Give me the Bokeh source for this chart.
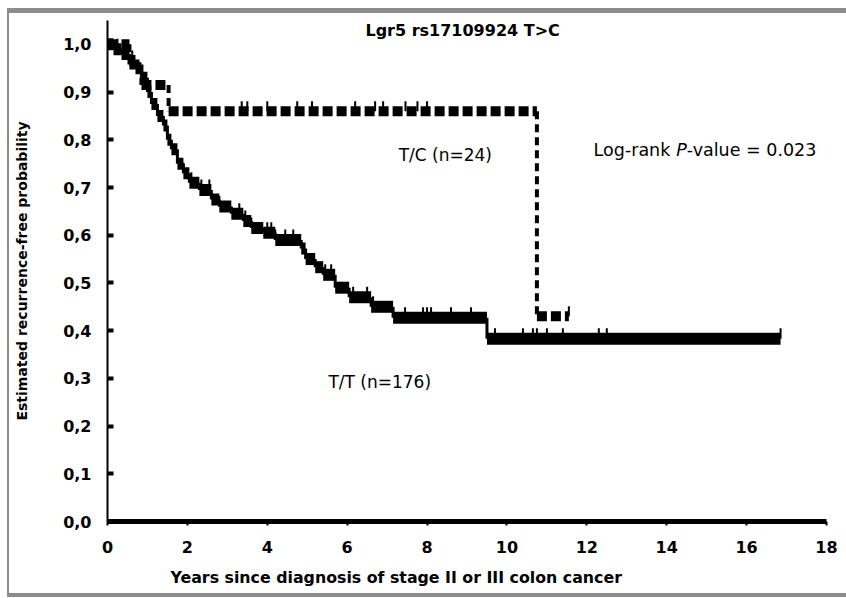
import numpy as np
from bokeh.plotting import figure
from bokeh.models import Range1d, FixedTicker, Label, Title, CustomJSTickFormatter
from bokeh.embed import file_html
from bokeh.resources import INLINE

# ---------------- data ----------------
# T/T genotype (n=176): step times (years) and survival after each step
tt_time = [0.0, 0.15, 0.35, 0.55, 0.7, 0.85, 1.0, 1.1, 1.25, 1.4, 1.5, 1.6, 1.75,
           1.9, 2.05, 2.3, 2.6, 2.8, 3.1, 3.4, 3.6, 3.9, 4.2, 4.85, 4.96, 5.2,
           5.4, 5.7, 6.05, 6.6, 7.15, 9.5]
tt_surv = [1.0, 0.99, 0.98, 0.965, 0.95, 0.93, 0.90, 0.875, 0.85, 0.83, 0.80, 0.78, 0.75,
           0.73, 0.71, 0.695, 0.675, 0.66, 0.645, 0.63, 0.615, 0.605, 0.59, 0.572, 0.55, 0.533,
           0.517, 0.49, 0.47, 0.45, 0.427, 0.383]
tt_end = 16.85
tt_censor = [0.25, 0.45, 0.62, 1.9, 2.1, 2.35, 2.55, 2.8, 3.3, 3.45, 3.6, 4.0, 4.1, 4.2,
             4.45, 4.65, 5.45, 5.6, 6.15, 6.5, 6.65, 7.45, 7.9, 8.0, 8.1, 8.6, 9.1,
             9.7, 10.4, 10.65, 10.75, 11.0, 11.4, 12.3, 12.5, 16.85]

# T/C genotype (n=24)
tc_time = [0.0, 0.55, 0.85, 1.53, 10.75]
tc_surv = [1.0, 0.958, 0.915, 0.86, 0.43]
tc_end = 11.55
tc_censor = [3.36, 3.5, 4.0, 4.75, 5.12, 6.2, 6.7, 6.9, 7.46, 7.76, 8.0, 11.55]

x_ticks = [0, 2, 4, 6, 8, 10, 12, 14, 16, 18]
y_ticks = [0.0, 0.1, 0.2, 0.3, 0.4, 0.5, 0.6, 0.7, 0.8, 0.9, 1.0]

title_text = "Lgr5 rs17109924 T>C"
x_label = "Years since diagnosis of stage II or III colon cancer"
y_label = "Estimated recurrence-free probability"
tc_label = "T/C (n=24)"
tt_label = "T/T (n=176)"
p_parts = ["Log-rank ", "P", "-value = 0.023"]


def surv_at(times, survs, t):
    idx = np.searchsorted(np.asarray(times), t, side="right") - 1
    return np.asarray(survs)[idx]


FONT = "DejaVu Sans"
GREY = "#8c8c8c"

p = figure(width=839, height=589, output_backend="svg", toolbar_location=None,
           x_range=Range1d(0, 18), y_range=Range1d(0, 1.05),
           min_border_left=100, min_border_right=20, min_border_top=12, min_border_bottom=75)
p.styles = {"margin-top": "8px", "margin-left": "7px",
            "margin-bottom": "-20px", "margin-right": "-10px", "vertical-align": "top",
            "box-shadow": f"inset 0 5px 0 0 {GREY}, inset 2px 0 0 0 {GREY}, inset 0 -4px 0 0 {GREY}"}
p.outline_line_color = None
p.xgrid.visible = False
p.ygrid.visible = False
p.background_fill_color = "white"
p.border_fill_color = None

# axes
p.xaxis.ticker = FixedTicker(ticks=x_ticks)
p.yaxis.ticker = FixedTicker(ticks=y_ticks)
p.yaxis.formatter = CustomJSTickFormatter(code="return tick.toFixed(1).replace('.', ',');")
for ax in (p.xaxis, p.yaxis):
    ax.minor_tick_line_color = None
    ax.axis_line_color = "black"
    ax.major_tick_line_color = "black"
    ax.major_label_text_font = FONT
    ax.major_label_text_font_style = "bold"
    ax.major_label_text_color = "black"
    ax.major_label_text_font_size = "16px"
p.xaxis.axis_line_width = 5
p.xaxis.major_tick_in = 0
p.xaxis.major_tick_out = 4
p.xaxis.major_tick_line_width = 2
p.xaxis.major_label_standoff = 15
p.yaxis.axis_line_width = 2
p.yaxis.major_tick_in = 6
p.yaxis.major_tick_out = 0
p.yaxis.major_tick_line_width = 4
p.yaxis.major_label_standoff = 16
p.yaxis.axis_label = y_label
p.yaxis.axis_label_text_font = FONT
p.yaxis.axis_label_text_font_style = "bold"
p.yaxis.axis_label_text_font_size = "14px"
p.yaxis.axis_label_text_color = "black"
p.yaxis.axis_label_standoff = 30

# x axis label as an offset title below the axis
p.add_layout(Title(text=x_label, align="left", offset=63, standoff=21, text_font=FONT,
                   text_font_style="bold", text_font_size="15.8px", text_color="black"),
             "below")

# T/T solid step curve
tt_x1 = tt_time[1:] + [tt_end]
p.segment(x0=tt_time, y0=tt_surv, x1=tt_x1, y1=tt_surv, line_color="black",
          line_width=12, line_cap="butt")
p.segment(x0=tt_time[1:], y0=tt_surv[:-1], x1=tt_time[1:], y1=tt_surv[1:],
          line_color="black", line_width=3)
tt_cy = surv_at(tt_time, tt_surv, tt_censor)
p.segment(x0=tt_censor, y0=tt_cy, x1=tt_censor, y1=tt_cy + 0.022,
          line_color="black", line_width=2)

# T/C dashed step curve
tc_x1 = tc_time[1:] + [tc_end]
p.segment(x0=tc_time, y0=tc_surv, x1=tc_x1, y1=tc_surv, line_color="black",
          line_width=10, line_dash="10 4", line_cap="butt")
p.segment(x0=tc_time[1:], y0=tc_surv[:-1], x1=tc_time[1:], y1=tc_surv[1:],
          line_color="black", line_width=4, line_dash="8 5")
tc_cy = surv_at(tc_time, tc_surv, tc_censor)
p.segment(x0=tc_censor, y0=tc_cy, x1=tc_censor, y1=tc_cy + 0.021,
          line_color="black", line_width=2)

# texts
p.add_layout(Label(x=8.89, y=1.03, text=title_text, text_align="center",
                   text_baseline="alphabetic", text_font=FONT, text_font_style="bold",
                   text_font_size="16px", text_color="black"))
p.add_layout(Label(x=7.29, y=0.768, text=tc_label, text_align="left", text_baseline="middle",
                   text_font=FONT, text_font_size="17px", text_color="black"))
p.add_layout(Label(x=5.53, y=0.293, text=tt_label, text_align="left", text_baseline="middle",
                   text_font=FONT, text_font_size="17px", text_color="black"))
offs = [0, 82.6, 93.2]
styles = ["normal", "italic", "normal"]
for part, off, st in zip(p_parts, offs, styles):
    p.add_layout(Label(x=12.17, y=0.778, x_offset=off, text=part, text_align="left",
                       text_baseline="middle", text_font=FONT, text_font_style=st,
                       text_font_size="17.5px", text_color="black"))

open("out.html", "w").write(file_html(p, INLINE))
